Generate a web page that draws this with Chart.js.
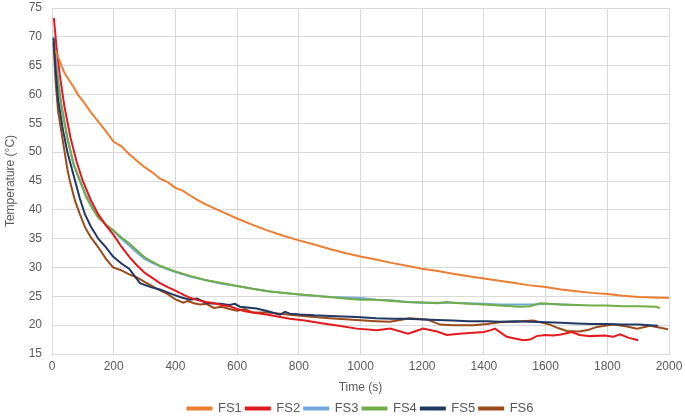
<!DOCTYPE html>
<html>
<head>
<meta charset="utf-8">
<script src="https://cdn.jsdelivr.net/npm/chart.js@4"></script>
<style>
  body { margin: 0; background: #fff; }
  #wrap { width: 685px; height: 419px; }
</style>
</head>
<body>
<div id="wrap"><canvas id="cool"></canvas></div>
<script>
// time (s) / temperature (°C) per sample
const fs1Time = [12,25,40,55,70,85,100,125,150,175,200,225,250,275,300,325,350,375,400,425,450,475,500,550,600,650,700,750,800,850,900,950,1000,1050,1100,1150,1200,1250,1300,1350,1400,1450,1500,1550,1600,1650,1700,1750,1800,1850,1900,1950,2000];
const fs1Temp = [67.6,65.8,63.8,62.5,61.3,59.9,58.9,57,55.3,53.6,51.8,51,49.7,48.5,47.4,46.5,45.4,44.8,43.8,43.3,42.4,41.6,40.9,39.7,38.5,37.4,36.4,35.5,34.7,34,33.2,32.5,31.9,31.4,30.8,30.3,29.8,29.4,28.9,28.5,28.1,27.7,27.3,26.9,26.6,26.2,25.9,25.6,25.4,25.1,24.9,24.8,24.7];

const fs2Time = [6,15,25,40,60,80,100,125,150,175,200,225,250,275,300,325,350,375,400,425,450,475,500,525,550,575,600,625,650,700,771,820,879,930,988,1053,1096,1154,1175,1203,1248,1280,1320,1366,1400,1420,1436,1474,1500,1528,1550,1571,1600,1625,1650,1685,1710,1744,1790,1820,1841,1870,1900];
const fs2Temp = [73.3,68,63.5,58,52.5,48.3,45,41.8,39.2,37.3,35.6,33.6,31.9,30.4,29.1,28.2,27.3,26.6,26,25.3,24.7,24.3,24,23.8,23.5,23.3,22.8,22.4,22.2,21.8,21.1,20.8,20.3,19.9,19.4,19.1,19.4,18.5,18.9,19.4,18.9,18.3,18.5,18.7,18.8,19.1,19.4,18,17.7,17.4,17.5,18.1,18.3,18.2,18.4,18.8,18.3,18.1,18.2,18,18.4,17.8,17.4];

const fs3Time = [5,15,30,50,70,90,110,130,150,175,200,225,250,275,300,325,350,375,400,450,500,550,600,650,700,750,800,850,900,950,1000,1050,1100,1150,1200,1250,1300,1350,1400,1450,1500,1560,1600,1650,1700];
const fs3Temp = [70,64.5,58.5,52.5,48,45.3,42.6,40.5,38.8,37.4,36.3,35,33.8,32.6,31.5,30.8,30.2,29.7,29.2,28.4,27.8,27.2,26.8,26.3,25.9,25.6,25.3,25.1,24.9,24.8,24.7,24.4,24.3,24,23.9,23.9,23.9,23.8,23.7,23.6,23.6,23.6,23.7,23.6,23.5];

const fs4Time = [5,15,30,50,70,90,110,130,150,175,200,225,250,275,300,325,350,375,400,450,500,550,600,650,700,771,850,900,966,1000,1050,1100,1150,1203,1250,1280,1300,1350,1400,1450,1517,1550,1582,1650,1700,1750,1800,1850,1900,1960,1970];
const fs4Temp = [69,64,58,52.3,47.8,45,42.3,40.3,38.6,37.4,36.4,35.2,34.2,33,31.8,31,30.3,29.8,29.3,28.5,27.8,27.3,26.8,26.3,25.9,25.5,25.1,24.9,24.55,24.4,24.4,24.2,24,23.95,23.8,24,23.9,23.7,23.6,23.4,23.2,23.3,23.8,23.6,23.5,23.4,23.4,23.3,23.3,23.2,22.9];

const fs5Time = [5,12,20,35,50,65,75,90,107,125,150,175,198,225,250,285,320,350,393,420,447,470,502,545,575,593,609,663,700,739,755,771,804,850,900,988,1050,1100,1150,1203,1250,1300,1350,1410,1450,1500,1550,1604,1650,1700,1750,1798,1850,1900,1964];
const fs5Temp = [69.8,64,59,54,50,47,45,42,39.2,37.2,35,33.5,31.9,30.7,29.8,27.3,26.6,26.2,25.3,24.8,24.4,24.6,23.8,23.7,23.5,23.7,23.2,22.9,22.4,21.8,22.3,22,21.85,21.7,21.6,21.4,21.2,21.1,21.1,21,20.9,20.8,20.7,20.7,20.6,20.7,20.6,20.5,20.4,20.3,20.2,20.2,20.1,20.1,19.9];

const fs6Time = [5,12,20,35,50,58,75,90,107,125,150,175,198,225,250,275,300,318,340,360,380,399,425,440,460,480,500,525,550,575,600,625,650,700,771,850,900,988,1050,1096,1160,1215,1258,1300,1366,1410,1452,1500,1560,1614,1640,1669,1711,1740,1766,1819,1860,1896,1939,1997];
const fs6Temp = [69,62,57,52,47,45,41.5,39.3,37,35.3,33.5,31.5,30,29.5,28.8,28.3,27.5,27,26.3,25.8,25.2,24.5,23.9,24.2,23.8,23.6,23.7,23,23.2,22.8,22.5,22.8,22.2,22.2,21.8,21.4,21.2,20.9,20.7,20.6,21.2,21,20.1,20,20,20.2,20.5,20.6,20.8,20.1,19.5,19,18.9,19.2,19.7,20.1,19.8,19.4,19.9,19.3];

const seriesNames = ['FS1','FS2','FS3','FS4','FS5','FS6'];
const seriesColors = ['#ED7D31','#E3191C','#6FA8DC','#70AD47','#1F3864','#9C4A1A'];

const pairs = (t, v) => t.map((x, i) => ({ x, y: v[i] }));
const allData = [
  pairs(fs1Time, fs1Temp), pairs(fs2Time, fs2Temp), pairs(fs3Time, fs3Temp),
  pairs(fs4Time, fs4Temp), pairs(fs5Time, fs5Temp), pairs(fs6Time, fs6Temp)
];
// green drawn over light blue
const drawOrder = [0, 0, 2, 1, 0, 0];

const tickFont = { family: 'Liberation Sans, Arial, sans-serif', size: 12 };
const gridColor = '#D9D9D9';
const textColor = '#595959';

new Chart(document.getElementById('cool'), {
  type: 'line',
  data: {
    datasets: allData.map((d, i) => ({
      label: seriesNames[i],
      data: d,
      borderColor: seriesColors[i],
      backgroundColor: seriesColors[i],
      borderWidth: 2,
      pointRadius: 0,
      tension: 0,
      order: drawOrder[i]
    }))
  },
  options: {
    responsive: true,
    maintainAspectRatio: false,
    animation: false,
    // negative bottom pushes the legend row down a bit
    layout: { padding: { left: 0, right: 16, top: 8, bottom: -6 } },
    plugins: {
      tooltip: { enabled: false },
      legend: {
        position: 'bottom',
        fullSize: false,
        labels: {
          boxWidth: 24,
          boxHeight: 2,
          padding: 4,
          color: textColor,
          font: { family: tickFont.family, size: 13 },
          sort: (a, b) => a.datasetIndex - b.datasetIndex
        }
      }
    },
    scales: {
      x: {
        type: 'linear',
        min: 0, max: 2000,
        afterFit: s => { s.height = 44; s.paddingLeft = 0; s.paddingRight = 0; },
        ticks: { stepSize: 200, color: textColor, font: tickFont, padding: 5, maxRotation: 0, callback: v => v },
        grid: { color: gridColor, drawTicks: false },
        border: { color: gridColor },
        title: { display: true, text: 'Time (s)', color: textColor, font: tickFont, padding: { top: 2, bottom: 3 } }
      },
      y: {
        min: 15, max: 75,
        afterFit: s => { s.width = 52; s.paddingTop = 0; s.paddingBottom = 0; },
        ticks: { stepSize: 5, color: textColor, font: tickFont, padding: 10, callback: v => v },
        grid: { color: gridColor, drawTicks: false },
        border: { color: gridColor },
        title: { display: true, text: 'Temperature (°C)', color: textColor, font: tickFont, padding: { top: 3, bottom: 0 } }
      }
    }
  }
});
</script>
</body>
</html>
